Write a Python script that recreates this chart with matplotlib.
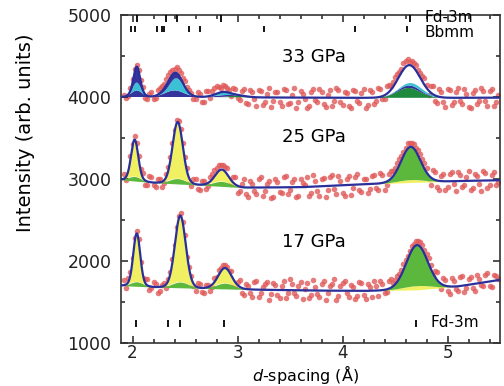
import numpy as np
import matplotlib
matplotlib.use("Agg")
import matplotlib.pyplot as plt
from matplotlib.ticker import MultipleLocator

plt.rcParams['font.family'] = ['DejaVu Sans']
plt.rcParams['mathtext.fontset'] = 'dejavusans'

# ---- observed profiles: two interleaved d-spacing grids (0.04 A step each) ----
d_obs_a = np.round(np.linspace(1.92, 5.48, 90), 2)
d_obs_b = np.round(np.linspace(1.94, 5.46, 89), 2)

obs_17_a = [1765, 1790, 2035, 2370, 1990, 1780, 1650, 1745, 1610, 1705,
            1675, 1865, 2190, 2545, 2480, 2050, 1820, 1635, 1715, 1610,
            1710, 1680, 1805, 1920, 1950, 1880, 1735, 1750, 1610, 1725,
            1610, 1740, 1565, 1680, 1745, 1595, 1705, 1545, 1760, 1615,
            1720, 1575, 1740, 1660, 1550, 1765, 1595, 1720, 1530, 1695,
            1780, 1570, 1735, 1615, 1705, 1540, 1745, 1585, 1720, 1560,
            1700, 1755, 1610, 1755, 1730, 1815, 1890, 2010, 2125, 2210,
            2240, 2195, 2090, 1955, 1880, 1705, 1790, 1635, 1790, 1655,
            1805, 1620, 1780, 1665, 1825, 1705, 1825, 1690, 1835, 1785]
obs_17_b = [1675, 1860, 2275, 2265, 1795, 1775, 1665, 1715, 1635, 1735,
            1785, 2020, 2410, 2580, 2315, 1930, 1690, 1730, 1625, 1710,
            1640, 1790, 1890, 1950, 1930, 1880, 1700, 1765, 1585, 1695,
            1560, 1755, 1610, 1720, 1530, 1735, 1585, 1690, 1550, 1775,
            1610, 1700, 1535, 1735, 1590, 1680, 1555, 1755, 1610, 1715,
            1520, 1690, 1760, 1555, 1680, 1575, 1730, 1535, 1685, 1755,
            1575, 1725, 1625, 1775, 1770, 1845, 1965, 2060, 2185, 2245,
            2235, 2135, 2040, 1815, 1870, 1655, 1765, 1595, 1755, 1640,
            1820, 1665, 1800, 1630, 1780, 1695, 1855, 1685, 1815]

obs_25_a = [3055, 3060, 3430, 3440, 3125, 2930, 3035, 2925, 3000, 2900,
            3055, 3265, 3600, 3710, 3435, 3140, 2920, 2995, 2860, 2980,
            2910, 3055, 3140, 3165, 3150, 2985, 3020, 2825, 2940, 2820,
            2980, 2855, 3005, 2795, 2945, 2770, 2995, 2845, 3030, 2815,
            2965, 2780, 3005, 2930, 2795, 3045, 2850, 3000, 2785, 3030,
            2875, 3040, 2830, 3000, 2805, 3030, 2865, 2995, 2825, 3035,
            2885, 3070, 2865, 3065, 3095, 3190, 3285, 3380, 3435, 3425,
            3350, 3245, 3130, 2930, 3085, 2865, 3060, 2900, 3085, 2855,
            3045, 2930, 3100, 2885, 3040, 2850, 3070, 2925, 3085, 2965]
obs_25_b = [2985, 3280, 3520, 3280, 3075, 2925, 3025, 2900, 3000, 2950,
            3145, 3435, 3715, 3610, 3265, 2965, 3000, 2875, 2975, 2875,
            3030, 3105, 3165, 3170, 3130, 2940, 3020, 2850, 2995, 2785,
            2940, 2815, 3020, 2850, 2980, 2785, 2960, 2830, 3040, 2860,
            2995, 2795, 2955, 3030, 2825, 2980, 2790, 3015, 2865, 3045,
            2820, 2975, 2795, 3035, 2890, 3055, 2840, 3005, 2880, 3045,
            2860, 3045, 2930, 3100, 3130, 3240, 3335, 3440, 3445, 3380,
            3305, 3190, 2995, 3115, 2905, 3035, 2860, 3065, 2935, 3090,
            2900, 3025, 2860, 3065, 2935, 3100, 2890, 3050, 2930]

obs_33_a = [4025, 4015, 4215, 4395, 4210, 3990, 4040, 3975, 4080, 4130,
            4220, 4300, 4340, 4335, 4230, 4125, 4050, 3970, 4035, 3945,
            4075, 4070, 4130, 4110, 4140, 4080, 4110, 3985, 4075, 3930,
            4085, 3970, 4090, 3905, 4035, 3880, 4065, 3945, 4100, 3915,
            4030, 3870, 4070, 3970, 3895, 4100, 3935, 4055, 3880, 4080,
            3950, 4090, 3905, 4045, 3870, 4075, 3930, 4100, 3900, 4065,
            3950, 4100, 3970, 4145, 4180, 4280, 4345, 4435, 4430, 4420,
            4330, 4260, 4150, 4135, 3950, 4095, 3945, 4100, 3900, 4060,
            3950, 4095, 3875, 4050, 3915, 4110, 3955, 4075, 3890, 4030]
obs_33_b = [3985, 4115, 4345, 4335, 4125, 3975, 4060, 3985, 4110, 4160,
            4265, 4330, 4370, 4290, 4195, 4090, 3970, 4055, 3940, 4070,
            3985, 4115, 4125, 4145, 4115, 4010, 4100, 3965, 4100, 3920,
            4055, 3895, 4075, 3935, 4110, 3955, 4055, 3885, 4085, 3930,
            4110, 3945, 4040, 3870, 4065, 3960, 4095, 3910, 4030, 3885,
            4110, 3945, 4060, 3890, 4085, 3955, 4050, 3870, 4080, 3920,
            4110, 3970, 4130, 4140, 4240, 4310, 4410, 4465, 4435, 4395,
            4295, 4235, 4020, 4135, 3930, 4060, 3880, 4080, 3945, 4110,
            3915, 4035, 3870, 4085, 3950, 4070, 3895, 4100, 3935]

# ---- refined backgrounds (knots) ----
bg_17_d = [1.89, 2.2, 2.7, 3.2, 3.7, 4.2, 4.7, 5.1, 5.5]
bg_17_i = [1700, 1682, 1665, 1650, 1640, 1635, 1648, 1690, 1770]
bg_25_d = [1.89, 2.2, 2.65, 3.05, 3.6, 4.2, 4.7, 5.1, 5.5]
bg_25_i = [2990, 2955, 2925, 2895, 2900, 2935, 2960, 2975, 2985]
bg_33_d = [1.89, 2.6, 3.2, 4.0, 5.0, 5.5]
bg_33_i = [4000, 4000, 3995, 3990, 3990, 3992]

# ---- peak components: (centres, heights, widths) ----
green_lo_17 = ([2.04, 2.455, 2.88], [55, 70, 70], [0.06, 0.08, 0.085])
yellow_lo_17 = ([4.71], [50], [0.14])
yellow_hi_17 = ([2.04, 2.455, 2.88], [590, 810, 185], [0.032, 0.05, 0.06])
green_hi_17 = ([4.71], [495], [0.10])

green_lo_25 = ([2.02, 2.43, 2.85], [55, 65, 60], [0.06, 0.08, 0.085])
yellow_lo_25 = ([4.65], [35], [0.13])
yellow_hi_25 = ([2.02, 2.43, 2.85], [450, 690, 145], [0.033, 0.048, 0.06])
green_hi_25 = ([4.65], [400], [0.09])

green_33 = ([3.0, 4.63], [20, 120], [0.08, 0.11])
navy_lo_33 = ([2.04, 2.40, 2.86, 4.65], [80, 80, 20, 30], [0.05, 0.09, 0.08, 0.10])
cyan_33 = ([2.04, 2.42, 2.86, 4.70], [95, 150, 40, 35], [0.035, 0.06, 0.07, 0.11])
navy_hi_33 = ([2.04, 2.38], [195, 75], [0.028, 0.07])
unfilled_33 = ([4.63], [220], [0.10])

# ---- reflection markers ----
fd3m_33 = [2.04, 2.32, 2.42, 2.84, 4.64]
bbmm_33 = [1.99, 2.02, 2.23, 2.28, 2.30, 2.54, 2.64, 3.25, 4.12, 4.61]
fd3m_17 = [2.03, 2.34, 2.45, 2.87, 4.70]

pressures = ["33 GPa", "25 GPa", "17 GPa"]

YELLOW = '#f0f062'
GREEN = '#5cb83c'
DKGREEN = '#1e8a3e'
CYAN = '#3cc0d6'
NAVY = '#34349c'
LINE = '#2a2f9a'
RED = '#e05a5a'


def gauss_sum(x, comp):
    centres, heights, widths = comp
    y = np.zeros_like(x)
    for c, h, w in zip(centres, heights, widths):
        y += h * np.exp(-0.5 * ((x - c) / w) ** 2)
    return y


d_fit = np.linspace(1.89, 5.5, 900)

fig = plt.figure(figsize=(5.04, 3.86), dpi=100)
ax = fig.add_axes([121 / 504, 1 - 343 / 386, 379 / 504, 328 / 386])

patterns = [
    (obs_33_a, obs_33_b, bg_33_d, bg_33_i,
     [(DKGREEN, green_33), (NAVY, navy_lo_33), (CYAN, cyan_33), (NAVY, navy_hi_33)],
     [unfilled_33]),
    (obs_25_a, obs_25_b, bg_25_d, bg_25_i,
     [(GREEN, green_lo_25), (YELLOW, yellow_lo_25), (YELLOW, yellow_hi_25), (GREEN, green_hi_25)],
     []),
    (obs_17_a, obs_17_b, bg_17_d, bg_17_i,
     [(GREEN, green_lo_17), (YELLOW, yellow_lo_17), (YELLOW, yellow_hi_17), (GREEN, green_hi_17)],
     []),
]

for obs_a, obs_b, bgd, bgi, layers, extra in patterns:
    ax.plot(d_obs_a, obs_a, 'o', ms=4, color=RED, mec='none', alpha=0.8, zorder=1)
    ax.plot(d_obs_b, obs_b, 'o', ms=4, color=RED, mec='none', alpha=0.8, zorder=1)
    base = np.interp(d_fit, bgd, bgi)
    lower = base.copy()
    for colour, comp in layers:
        upper = lower + gauss_sum(d_fit, comp)
        ax.fill_between(d_fit, lower, upper, where=upper > lower + 0.5,
                        color=colour, lw=0, zorder=2)
        lower = upper
    total = lower.copy()
    for comp in extra:
        total = total + gauss_sum(d_fit, comp)
    ax.plot(d_fit, total, color=LINE, lw=1.6, zorder=3)

# reflection markers
ax.vlines(fd3m_33, 4915, 5000, color='black', lw=1.3, zorder=4)
ax.vlines(bbmm_33, 4790, 4860, color='black', lw=1.3, zorder=4)
ax.vlines(fd3m_17, 1200, 1280, color='black', lw=1.3, zorder=4)
ax.text(4.78, 4975, "Fd-3m", fontsize=11, va='center', ha='left')
ax.text(4.78, 4790, "Bbmm", fontsize=11, va='center', ha='left')
ax.text(4.84, 1244, "Fd-3m", fontsize=11, va='center', ha='left')

for label, y in zip(pressures, [4488, 3512, 2232]):
    ax.text(3.73, y, label, fontsize=13, ha='center', va='center')

ax.set_xlim(1.89, 5.5)
ax.set_ylim(1000, 5000)
ax.xaxis.set_major_locator(MultipleLocator(1))
ax.xaxis.set_minor_locator(MultipleLocator(0.2))
ax.yaxis.set_major_locator(MultipleLocator(1000))
ax.yaxis.set_minor_locator(MultipleLocator(500))
ax.tick_params(which='both', direction='in', top=True, right=True,
               labelsize=12.5, width=1.1, colors='#222222')
ax.tick_params(which='major', length=5)
ax.tick_params(which='minor', length=3)
ax.tick_params(axis='x', pad=1, labelsize=12)
ax.tick_params(axis='y', pad=7)
for s in ax.spines.values():
    s.set_linewidth(1.2)
    s.set_color('#333333')

ax.set_xlabel(r"$d$-spacing (Å)", fontsize=11.5)
ax.set_ylabel("Intensity (arb. units)", fontsize=14)
ax.xaxis.label.set_verticalalignment('bottom')
ax.xaxis.set_label_coords(0.488, -0.130)
ax.yaxis.set_label_coords(-0.228, 0.64)

fig.savefig("out.png", dpi=100)
